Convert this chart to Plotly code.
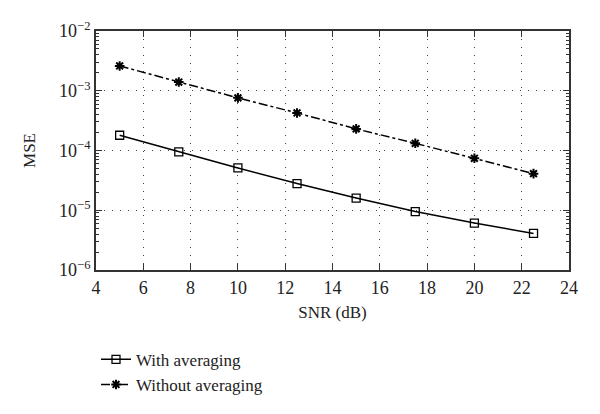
import plotly.graph_objects as go

snr = [5, 7.5, 10, 12.5, 15, 17.5, 20, 22.5]
mse_with = [1.80e-4, 9.5e-5, 5.1e-5, 2.8e-5, 1.6e-5, 9.5e-6, 6.1e-6, 4.1e-6]
mse_without = [2.6e-3, 1.4e-3, 7.6e-4, 4.25e-4, 2.3e-4, 1.32e-4, 7.4e-5, 4.1e-5]
x_ticks = [4, 6, 8, 10, 12, 14, 16, 18, 20, 22, 24]
y_tickvals = [1e-6, 1e-5, 1e-4, 1e-3, 1e-2]
y_ticktext = ["10<sup>−6</sup>", "10<sup>−5</sup>", "10<sup>−4</sup>", "10<sup>−3</sup>", "10<sup>−2</sup>"]
y_minor = [m * d for d in [1e-6, 1e-5, 1e-4, 1e-3] for m in range(2, 10)]

FONT = "Liberation Serif"

fig = go.Figure()
fig.add_trace(go.Scatter(
    x=snr, y=mse_with, name="With averaging", mode="lines+markers",
    line=dict(color="black", width=1.5),
    marker=dict(symbol="square-open", size=8, color="black", line=dict(width=1.3)),
))
fig.add_trace(go.Scatter(
    x=snr, y=mse_without, name="Without averaging", mode="lines+markers",
    line=dict(color="black", width=1.5, dash="dashdot"),
    marker=dict(symbol="asterisk-open", size=8, color="black", line=dict(width=2, color="black")),
))

axis_common = dict(
    showline=True, linecolor="#333", linewidth=1.8, mirror="ticks",
    ticks="inside", tickcolor="#333", ticklen=6, tickwidth=1.2,
    showgrid=True, gridcolor="#444", griddash="1px,7px", gridwidth=1.3,
    zeroline=False, tickfont=dict(family=FONT, size=18, color="#222"),
)

fig.update_xaxes(
    range=[4, 24], tickvals=x_ticks,
    title=dict(text="SNR (dB)", font=dict(family=FONT, size=17, color="#222"), standoff=10),
    **axis_common,
)
fig.update_yaxes(
    type="log", range=[-6, -2], tickvals=y_tickvals, ticktext=y_ticktext,
    title=dict(text="MSE", font=dict(family=FONT, size=17, color="#222"), standoff=19),
    minor=dict(ticks="inside", ticklen=3, tickcolor="#333", tickvals=y_minor, showgrid=False),
    **axis_common,
)

fig.update_layout(
    width=592, height=406,
    margin=dict(l=88, r=31, t=23, b=143),
    paper_bgcolor="white", plot_bgcolor="white",
    showlegend=True,
    legend=dict(
        x=0.0, y=-0.295, xanchor="left", yanchor="top",
        font=dict(family=FONT, size=17, color="#222"),
        bgcolor="rgba(0,0,0,0)", itemwidth=30, tracegroupgap=0,
    ),
)

fig.write_html("out.html")
